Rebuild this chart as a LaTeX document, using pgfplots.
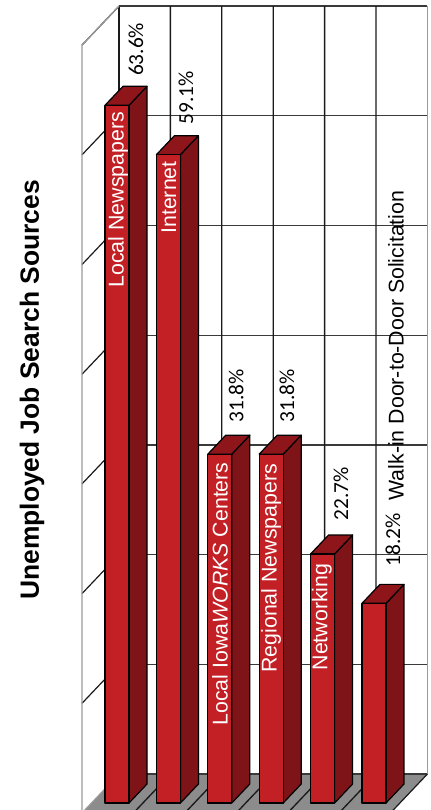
\documentclass[border=0pt]{standalone}
\usepackage{pgfplots}
\pgfplotsset{compat=1.18}
\usepackage{fontspec}
\setmainfont{Liberation Sans}
\newfontfamily\calibri{Carlito}

\definecolor{barfront}{HTML}{C32026}
\definecolor{barside}{HTML}{7E1418}
\definecolor{bartop}{HTML}{8E161B}
\definecolor{floorgray}{HTML}{8C8C8C}
\definecolor{wallgray}{HTML}{9A9A9A}
\definecolor{gridblack}{HTML}{1A1A1A}
\definecolor{gridh}{HTML}{3A3A3A}

% bar: start position, value. depth of a bar is 0.35 across and 1.73 up
\newcommand{\threedbar}[2]{%
  \pgfmathsetmacro{\xa}{#1}
  \pgfmathsetmacro{\xb}{#1+0.467}
  \pgfmathsetmacro{\xc}{#1+0.817}
  \pgfmathsetmacro{\xd}{#1+0.35}
  \pgfmathsetmacro{\yt}{#2+1.73}
  \addplot[draw=black,fill=barside,line width=0.9pt,line join=round] coordinates {(\xb,0) (\xc,1.73) (\xc,\yt) (\xb,#2)} --cycle;
  \addplot[draw=black,fill=bartop,line width=0.9pt,line join=round] coordinates {(\xa,#2) (\xb,#2) (\xc,\yt) (\xd,\yt)} --cycle;
  \addplot[draw=black,fill=barfront,line width=0.9pt,line join=round] coordinates {(\xa,0) (\xb,0) (\xb,#2) (\xa,#2)} --cycle;
}
% wall grid: value
\newcommand{\wallline}[1]{%
  \pgfmathsetmacro{\yb}{#1+2.64}
  \pgfmathsetmacro{\yf}{#1-0.91}
  \addplot[gridblack,line width=0.9pt] coordinates {(-0.447,\yf) (0.272,\yb)};
  \addplot[gridh,line width=1pt] coordinates {(0.272,\yb) (6.272,\yb)};
}
% floor and back wall separators: category boundary
\newcommand{\sepline}[1]{%
  \pgfmathsetmacro{\xb}{#1+0.272}
  \pgfmathsetmacro{\xf}{#1-0.447}
  \addplot[gridblack,line width=1pt] coordinates {(\xf,-0.91) (\xb,2.64) (\xb,72.64)};
}

\begin{document}
\begin{tikzpicture}
\begin{axis}[
  width=322.5pt,
  height=607.5pt,
  scale only axis,
  hide axis,
  clip=true,
  xmin=-2.043,
  xmax=6.323,
  ymin=-0.638,
  ymax=73.2,
]
% floor and left wall
\addplot[draw=none,fill=floorgray] coordinates {(-0.447,-0.91) (0.272,2.64) (6.272,2.64) (5.553,-0.91)} --cycle;
\wallline{10} \wallline{20} \wallline{30} \wallline{40} \wallline{50} \wallline{60} \wallline{70}
\sepline{1} \sepline{2} \sepline{3} \sepline{4} \sepline{5}
\addplot[gridblack,line width=1pt] coordinates {(0.272,2.64) (0.272,72.64)};
\addplot[gridh,line width=1pt] coordinates {(0.272,2.64) (6.272,2.64)};
\addplot[gridblack,line width=0.9pt] coordinates {(5.553,-0.91) (6.272,2.64)};
\addplot[wallgray,line width=1pt] coordinates {(6.272,2.64) (6.272,72.64)};
\addplot[wallgray,line width=0.9pt] coordinates {(0.272,72.64) (-0.447,69.09) (-0.447,-0.91) (0.272,2.64)};

% bars
\threedbar{0}{63.6}
\threedbar{1}{59.1}
\threedbar{2}{31.8}
\threedbar{3}{31.8}
\threedbar{4}{22.7}
\threedbar{5}{18.2}

% labels
\node[rotate=90,font=\fontsize{19.8}{22}\selectfont\bfseries] at (axis cs:-1.42,37.65) {Unemployed Job Search Sources};
\node[rotate=90,font=\fontsize{16}{18}\selectfont,white] at (axis cs:0.253,55.0) {Local Newspapers};
\node[rotate=90,font=\fontsize{16}{18}\selectfont,white] at (axis cs:1.245,55.2) {Internet};
\node[rotate=90,font=\fontsize{16}{18}\selectfont,white] at (axis cs:2.237,19.05) {Local Iowa\textit{WORKS} Centers};
\node[rotate=90,font=\fontsize{16}{18}\selectfont,white] at (axis cs:3.23,21.4) {Regional Newspapers};
\node[rotate=90,font=\fontsize{16}{18}\selectfont,white] at (axis cs:4.22,16.96) {Networking};
\node[rotate=90,font=\fontsize{16}{18}\selectfont] at (axis cs:5.661,41.7) {Walk-in Door-to-Door Solicitation};
\node[rotate=90,font=\calibri\fontsize{16}{18}\selectfont] at (axis cs:0.6,68.7) {63.6\%};
\node[rotate=90,font=\calibri\fontsize{16}{18}\selectfont] at (axis cs:1.575,64.3) {59.1\%};
\node[rotate=90,font=\calibri\fontsize{16}{18}\selectfont] at (axis cs:2.55,37.1) {31.8\%};
\node[rotate=90,font=\calibri\fontsize{16}{18}\selectfont] at (axis cs:3.54,37.1) {31.8\%};
\node[rotate=90,font=\calibri\fontsize{16}{18}\selectfont] at (axis cs:4.59,28.2) {22.7\%};
\node[rotate=90,font=\calibri\fontsize{16}{18}\selectfont] at (axis cs:5.603,24.0) {18.2\%};
\end{axis}
% hide axis leaves nothing for the bounding box, so keep the full frame
\path (current axis.south west) rectangle (current axis.north east);
\end{tikzpicture}
\end{document}
